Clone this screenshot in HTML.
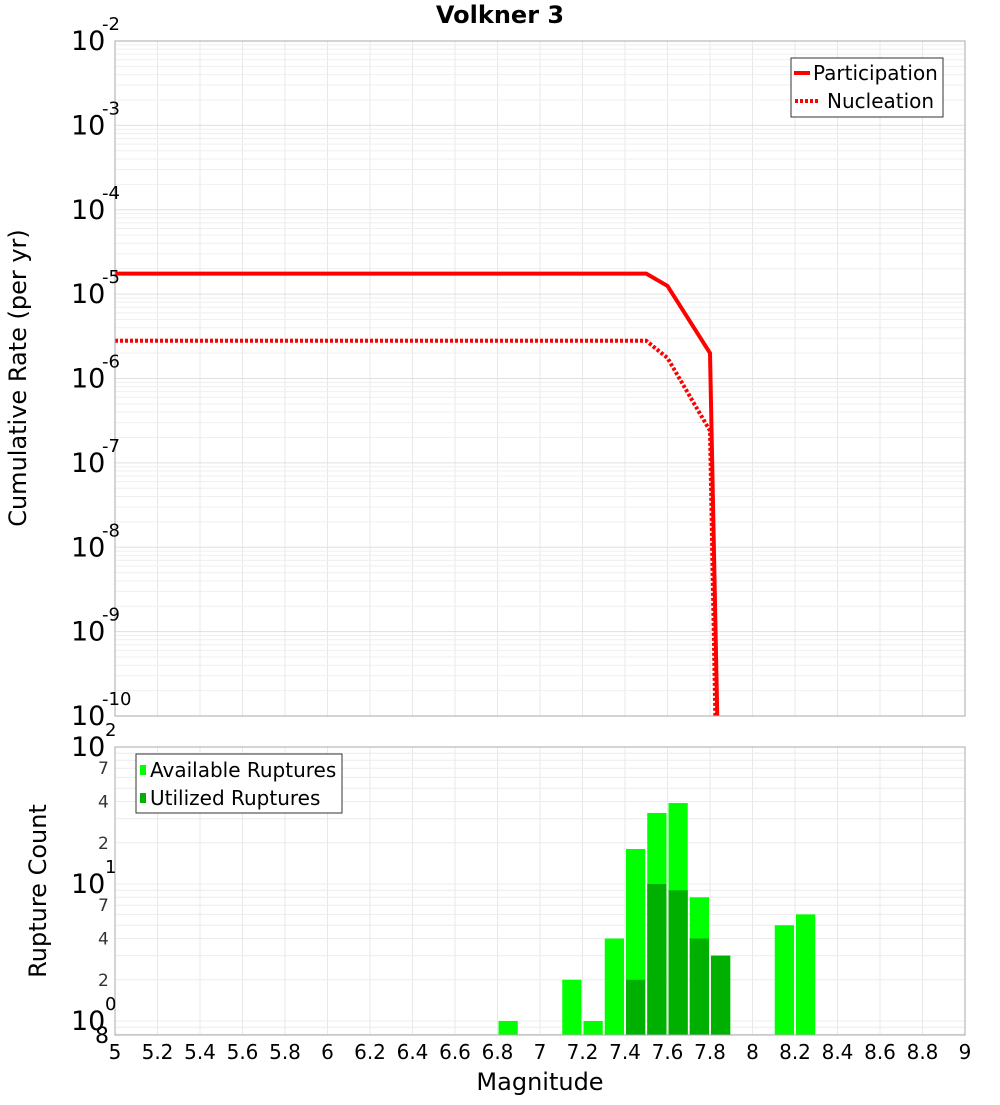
<!DOCTYPE html>
<html><head><meta charset="utf-8"><style>
body{margin:0;background:#fff;width:1000px;height:1100px;overflow:hidden}
svg{font-family:"DejaVu Sans","Liberation Sans",sans-serif}
</style></head><body>
<svg id="svg" width="1000" height="1100" xmlns="http://www.w3.org/2000/svg">
<text x="500" y="23" text-anchor="middle" font-size="24" font-weight="bold">Volkner 3</text>
<g id="topGrid"></g>
<g id="botGrid"></g>
<g id="bars"></g>
<defs><clipPath id="clipTop"><rect x="115" y="41" width="850" height="675"/></clipPath></defs>
<g id="lines" clip-path="url(#clipTop)"></g>
<rect x="115" y="41" width="850" height="675" fill="none" stroke="#aaa"/>
<rect x="115" y="747" width="850" height="288" fill="none" stroke="#aaa"/>
<g id="axes"></g>
<text transform="translate(26,378) rotate(-90)" text-anchor="middle" font-size="24">Cumulative Rate (per yr)</text>
<text transform="translate(46,891) rotate(-90)" text-anchor="middle" font-size="24">Rupture Count</text>
<text x="540" y="1090" text-anchor="middle" font-size="24">Magnitude</text>
<g>
<rect x="791" y="58" width="152" height="59" fill="#fff" stroke="#333"/>
<line x1="794" y1="73" x2="810" y2="73" stroke="red" stroke-width="4"/>
<text x="813" y="80" font-size="20">Participation</text>
<line x1="795" y1="101" x2="820" y2="101" stroke="red" stroke-width="4" stroke-dasharray="3,2"/>
<text x="827" y="108" font-size="20">Nucleation</text>
</g>
<g>
<rect x="136" y="754" width="206" height="59" fill="#fff" stroke="#333"/>
<rect x="140" y="765" width="6" height="10" fill="#00ff00"/>
<text x="150" y="777" font-size="20">Available Ruptures</text>
<rect x="140" y="793" width="6" height="10" fill="#00b000"/>
<text x="150" y="805" font-size="20">Utilized Ruptures</text>
</g>
</svg>
<script>
const partMag=[5,7.5,7.6,7.8,7.85];
const partRate=[1.75e-5,1.75e-5,1.25e-5,2e-6,1e-12];
const nuclMag=[5,7.5,7.6,7.8,7.84];
const nuclRate=[2.8e-6,2.8e-6,1.75e-6,2.4e-7,1e-12];
const binStart=[6.8,7.1,7.2,7.3,7.4,7.5,7.6,7.7,7.8,8.1,8.2];
const availCount=[1,2,1,4,18,33,39,8,3,5,6];
const utilCount=[0,0,0,0,2,10,9,4,3,0,0];
const xTicks=[5,5.2,5.4,5.6,5.8,6,6.2,6.4,6.6,6.8,7,7.2,7.4,7.6,7.8,8,8.2,8.4,8.6,8.8,9];
const topExp=[-10,-9,-8,-7,-6,-5,-4,-3,-2];
const botMinor=[2,4,7];
const NS='http://www.w3.org/2000/svg';
function X(m){return 115+(m-5)*212.5;}
function YT(v){return 716-(Math.log10(v)+10)*84.375;}
function YB(v){return 1021-137*Math.log10(v);}
function mk(t,a,p){const e=document.createElementNS(NS,t);for(const k in a)e.setAttribute(k,a[k]);p.appendChild(e);return e;}
const tg=document.getElementById('topGrid'),bg=document.getElementById('botGrid'),ax=document.getElementById('axes');
xTicks.forEach(m=>{
 const l1=mk('line',{x1:X(m),x2:X(m),y1:41,y2:716,stroke:'#e8e8e8'},tg);
 
 
 const l2=mk('line',{x1:X(m),x2:X(m),y1:747,y2:1035,stroke:'#e8e8e8'},bg);
 
 
 const t=mk('text',{x:X(m),y:1059,'text-anchor':'middle','font-size':20},ax);t.textContent=String(m);
 
 
});
topExp.forEach(e=>{
 for(let k=1;k<10&&e<-2||k==1;k++){
  const y=YT(k*Math.pow(10,e));
  const l=mk('line',{x1:115,x2:965,y1:y,y2:y,stroke:k==1?'#e0e0e0':'#efefef'},tg);
  
  
 }
 const y=YT(Math.pow(10,e));
 const t=mk('text',{x:71,y:y+9,'font-size':27},ax);t.textContent='10';
 
 
 const s=mk('text',{x:102,y:y-11,'font-size':18},ax);s.textContent=String(e);
 
 
});
[0.8,0.9,1,2,3,4,5,6,7,8,9,10,20,30,40,50,60,70,80,90,100].forEach(v=>{
 const y=YB(v);
 const l=mk('line',{x1:115,x2:965,y1:y,y2:y,stroke:'#ececec'},bg);
 
 
});
[0,1,2].forEach(e=>{
 const y=YB(Math.pow(10,e));
 const t=mk('text',{x:71,y:y+9,'font-size':27},ax);t.textContent='10';
 
 
 const s=mk('text',{x:105,y:y-11,'font-size':18},ax);s.textContent=String(e);
 
 
 if(e<2)botMinor.forEach(k=>{
  const yy=YB(k*Math.pow(10,e));
  const m=mk('text',{x:98,y:yy+6,'font-size':17,fill:'#333'},ax);m.textContent=String(k);
  
  
 });
});
const e8=mk('text',{x:95,y:1043,'font-size':22},ax);e8.textContent='8';


const bars=document.getElementById('bars');
binStart.forEach((m,i)=>{
 const x=X(m)+1,w=212.5*0.1-2;
 const a=mk('rect',{x:x,y:YB(availCount[i]),width:w,height:1035-YB(availCount[i]),fill:'#00ff00'},bars);
 
 
 if(utilCount[i]>0){
  const u=mk('rect',{x:x,y:YB(utilCount[i]),width:w,height:1035-YB(utilCount[i]),fill:'#00b000'},bars);
  
  
 }
});
const lines=document.getElementById('lines');
const p=mk('polyline',{points:partMag.map((m,i)=>X(m)+','+YT(partRate[i])).join(' '),fill:'none',stroke:'red','stroke-width':4},lines);


const n=mk('polyline',{points:nuclMag.map((m,i)=>X(m)+','+YT(nuclRate[i])).join(' '),fill:'none',stroke:'red','stroke-width':4,'stroke-dasharray':'3,2'},lines);


</script>
</body></html>
